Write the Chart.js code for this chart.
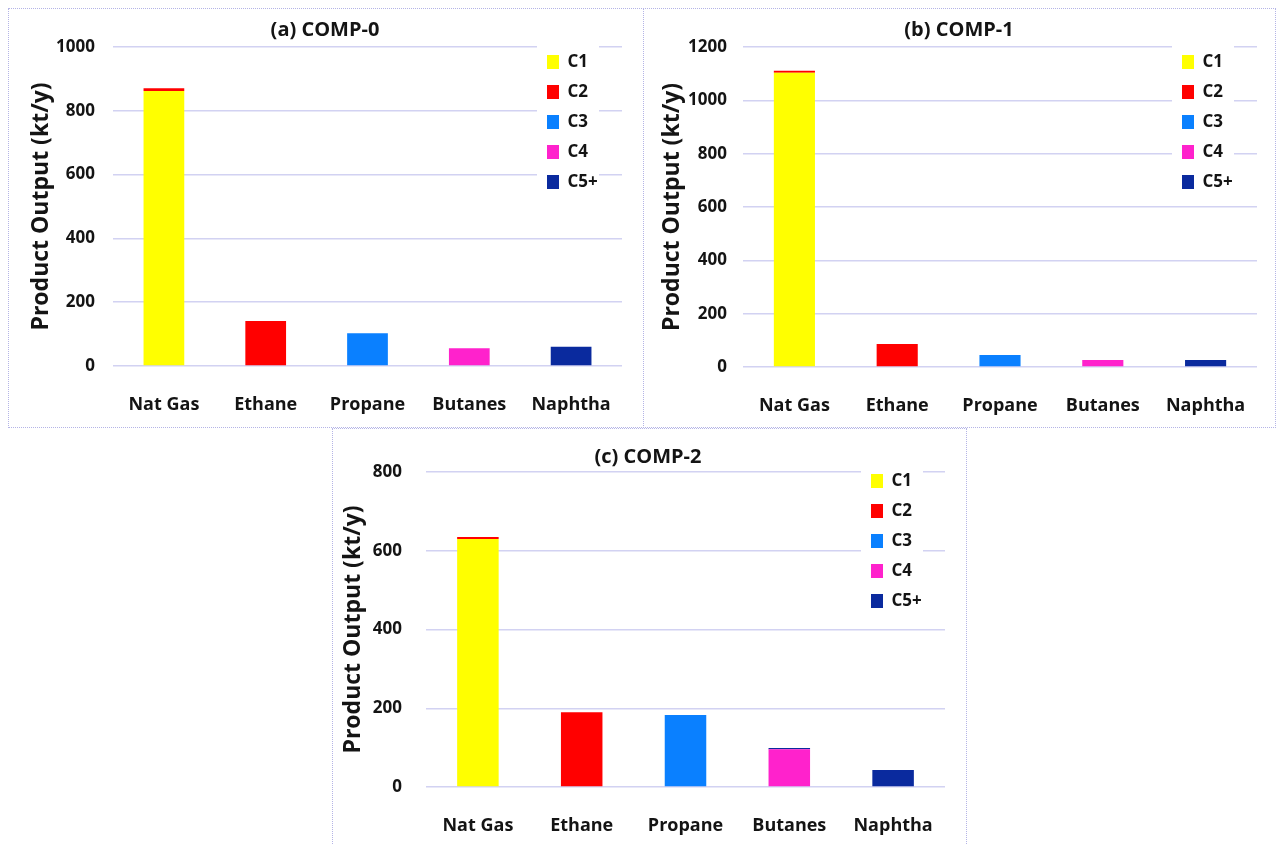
<!DOCTYPE html>
<html>
<head>
<meta charset="utf-8">
<title>Product Output by Composition</title>
<script src="https://cdn.jsdelivr.net/npm/chart.js@4.4.1/dist/chart.umd.min.js"></script>
<style>
  html, body { margin: 0; padding: 0; background: #fff; }
  body { position: relative; width: 1278px; height: 845px; overflow: hidden; }
  .panel { position: absolute; border: 1px dotted #b4b4e6; box-sizing: border-box; }
  .box { position: absolute; }
</style>
</head>
<body>
<div class="panel" style="left:8px;top:8px;width:636px;height:420px;"></div>
<div class="panel" style="left:643px;top:8px;width:633px;height:420px;"></div>
<div class="panel" style="left:332px;top:428px;width:635px;height:430px;"></div>

<div class="box" style="left:8px;top:8px;width:635px;height:420px;"><canvas id="chartA"></canvas></div>
<div class="box" style="left:643px;top:8px;width:632px;height:420px;"><canvas id="chartB"></canvas></div>
<div class="box" style="left:332px;top:428px;width:633px;height:417px;"><canvas id="chartC"></canvas></div>

<script>
// categories and series
const categories = ["Nat Gas", "Ethane", "Propane", "Butanes", "Naphtha"];
const seriesNames = ["C1", "C2", "C3", "C4", "C5+"];
const seriesColors = ["#ffff00", "#ff0000", "#0a80ff", "#ff22cc", "#0a2a9e"];

// (a) COMP-0, kt/y
const c1A = [862, 0, 0, 0, 0];
const c2A = [9, 141, 0, 0, 0];
const c3A = [0, 0, 103, 0, 0];
const c4A = [0, 0, 0, 56, 0];
const c5A = [0, 0, 0, 0, 60];

// (b) COMP-1
const c1B = [1103, 0, 0, 0, 0];
const c2B = [8, 86, 0, 0, 0];
const c3B = [0, 0, 45, 0, 0];
const c4B = [0, 0, 0, 26, 0];
const c5B = [0, 0, 0, 0, 26];

// (c) COMP-2
const c1C = [630, 0, 0, 0, 0];
const c2C = [5, 190, 0, 0, 0];
const c3C = [0, 0, 183, 0, 0];
const c4C = [0, 0, 0, 96, 0];
const c5C = [0, 0, 0, 3, 43];

const fontFamily = "'Open Sans', sans-serif";
const gridColor = "#d2d2f2";
const textColor = "#141414";

Chart.defaults.color = textColor;
Chart.defaults.font.family = fontFamily;
Chart.defaults.font.weight = "bold";

// puts the built-in legend at a fixed spot inside the plot, on a white patch
const legendSpot = {
    id: "legendSpot",
    afterLayout(chart, args, opts) {
        const lg = chart.legend;
        const lab = lg.options.labels;
        const pad = lab.padding;
        lg.left = opts.x - pad;
        lg.right = lg.left + lg.width;
        lg.top = opts.y - pad - Math.max((lab.font.size - lab.boxHeight) / 2, 0);
        lg.height = 200;
        lg.bottom = lg.top + 200;
    },
    beforeDatasetsDraw(chart, args, opts) {
        const ctx = chart.ctx;
        ctx.save();
        ctx.fillStyle = "#fff";
        ctx.fillRect(opts.x - 10, chart.chartArea.top - 3, 62, opts.y + 140 - chart.chartArea.top);
        ctx.restore();
        chart.legend.draw();
    }
};

function makeChart(id, title, values, cfg) {
    const datasets = seriesNames.map((name, i) => ({
        label: name,
        data: values[i],
        backgroundColor: seriesColors[i],
        borderWidth: 0,
        barPercentage: 0.4,
        categoryPercentage: 1.0
    }));
    new Chart(document.getElementById(id), {
        type: "bar",
        data: { labels: categories, datasets: datasets },
        plugins: [legendSpot],
        options: {
            responsive: true,
            maintainAspectRatio: false,
            animation: false,
            layout: { padding: { left: cfg.padLeft, right: cfg.padRight, top: 0, bottom: 0 } },
            plugins: {
                title: {
                    display: true,
                    text: title,
                    font: { size: 20, weight: "bold" },
                    color: textColor,
                    padding: { top: cfg.titleTop, bottom: cfg.titleBottom }
                },
                legend: {
                    position: "chartArea",
                    align: "start",
                    labels: {
                        boxWidth: 12,
                        boxHeight: 14,
                        padding: 13,
                        color: textColor,
                        font: { size: 17, weight: "bold" }
                    }
                },
                legendSpot: { x: cfg.legendX, y: cfg.legendY },
                tooltip: { enabled: false }
            },
            scales: {
                x: {
                    stacked: true,
                    grid: { display: false },
                    border: { display: false },
                    ticks: { padding: cfg.xPad, color: textColor, font: { size: 18, weight: "bold" } },
                    afterFit(s) { s.height = cfg.xHeight; }
                },
                y: {
                    stacked: true,
                    min: 0,
                    max: cfg.max,
                    grid: { color: gridColor, lineWidth: 1.5, drawTicks: false },
                    border: { display: false },
                    ticks: {
                        stepSize: 200,
                        padding: cfg.yPad,
                        color: textColor,
                        format: { useGrouping: false },
                        font: { size: 17, weight: "bold" }
                    },
                    title: {
                        display: true,
                        text: "Product Output (kt/y)",
                        color: textColor,
                        font: { size: 23, weight: "bold" },
                        padding: { top: cfg.yTitlePad, bottom: 0 }
                    },
                    afterFit(s) { s.width = cfg.yWidth; }
                }
            }
        }
    });
}

makeChart("chartA", "(a) COMP-0", [c1A, c2A, c3A, c4A, c5A], {
    max: 1000, padLeft: 20, padRight: 21, yWidth: 85, yPad: 18, yTitlePad: -0.8,
    xHeight: 62, xPad: 20, titleTop: 10, titleBottom: 5, legendX: 539, legendY: 47
});
makeChart("chartB", "(b) COMP-1", [c1B, c2B, c3B, c4B, c5B], {
    max: 1200, padLeft: 18, padRight: 18, yWidth: 82, yPad: 16, yTitlePad: -2.8,
    xHeight: 61, xPad: 20, titleTop: 10, titleBottom: 5, legendX: 539, legendY: 47
});
makeChart("chartC", "(c) COMP-2", [c1C, c2C, c3C, c4C, c5C], {
    max: 800, padLeft: 19, padRight: 20, yWidth: 75, yPad: 24, yTitlePad: -11.8,
    xHeight: 58, xPad: 20, titleTop: 17, titleBottom: 3, legendX: 539, legendY: 46
});
</script>
</body>
</html>
